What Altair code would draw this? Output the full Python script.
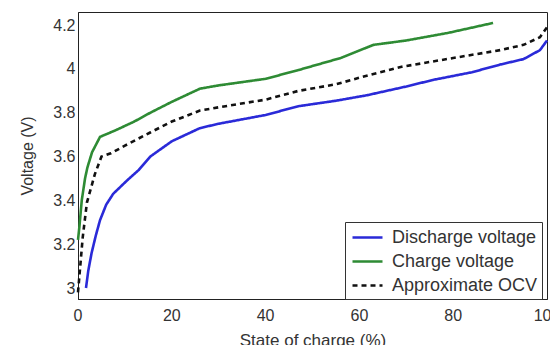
import altair as alt
import pandas as pd

# Discharge voltage (blue)
dis_x = [1.7, 2.2, 2.9, 3.8, 4.7, 6.0, 7.5, 10.4, 13.0, 15.4, 20, 26, 30, 40, 47, 55, 61.6, 70, 75.7, 84, 90, 95, 98.5, 100]
dis_y = [3.00, 3.08, 3.16, 3.24, 3.31, 3.38, 3.43, 3.49, 3.54, 3.60, 3.67, 3.73, 3.75, 3.79, 3.83, 3.855, 3.88, 3.92, 3.95, 3.985, 4.02, 4.045, 4.086, 4.13]

# Charge voltage (green)
chg_x = [0, 0.3, 0.8, 1.5, 2.0, 3.0, 4.7, 8, 12, 15.4, 20, 26, 30, 40, 47, 56, 63, 70, 79, 88.5]
chg_y = [3.22, 3.28, 3.40, 3.50, 3.55, 3.62, 3.69, 3.72, 3.76, 3.80, 3.85, 3.91, 3.925, 3.955, 3.995, 4.05, 4.11, 4.13, 4.165, 4.21]

# Approximate OCV (black dashed)
ocv_x = [0, 0.2, 1.0, 1.9, 3.6, 5.0, 7.0, 10, 15.4, 20, 26, 30, 40, 47, 55, 60, 69, 80, 90, 95, 98.5, 100]
ocv_y = [2.98, 3.03, 3.23, 3.39, 3.52, 3.60, 3.615, 3.65, 3.71, 3.76, 3.81, 3.825, 3.86, 3.90, 3.93, 3.96, 4.01, 4.05, 4.086, 4.11, 4.145, 4.19]

series_names = ["Discharge voltage", "Charge voltage", "Approximate OCV"]
series_colors = ["#2a2ad8", "#2e8b34", "#111111"]
x_ticks = [0, 20, 40, 60, 80, 100]
y_ticks = [3, 3.2, 3.4, 3.6, 3.8, 4, 4.2]

rows = []
for name, xs, ys in zip(series_names, [dis_x, chg_x, ocv_x], [dis_y, chg_y, ocv_y]):
    for i, (a, b) in enumerate(zip(xs, ys)):
        rows.append({"series": name, "soc": a, "v": b, "i": i})
df = pd.DataFrame(rows)
ticks_df = pd.DataFrame({"soc": x_ticks})

x_enc = alt.X("soc:Q", scale=alt.Scale(domain=[0, 100], nice=False),
              axis=alt.Axis(values=x_ticks, labels=False, title="State of charge (%)",
                            grid=False, ticks=False,
                            titleFontSize=17, titleY=46, titleBaseline="alphabetic",
                            titleFontWeight="normal"))

lines = alt.Chart(df).mark_line(strokeWidth=2.6).encode(
    x=x_enc,
    y=alt.Y("v:Q", scale=alt.Scale(domain=[2.95, 4.26], nice=False, zero=False),
            axis=alt.Axis(values=y_ticks, format="~g", title="Voltage (V)", grid=False,
                          ticks=False, labelPadding=3, labelFontSize=16,
                          labelOverlap=False, labelFlush=False,
                          titleFontSize=16, titleX=-46, titleBaseline="alphabetic",
                          titleFontWeight="normal")),
    color=alt.Color("series:N",
                    scale=alt.Scale(domain=series_names, range=series_colors),
                    legend=alt.Legend(title=None, orient="none", legendX=267, legendY=210,
                                      symbolType="M-1.5,0H1.5", symbolSize=400,
                                      symbolOffset=7, symbolStrokeWidth=2.6,
                                      labelFontSize=18, labelOffset=13, rowPadding=3,
                                      padding=4, strokeColor="#333",
                                      labelColor="#333")),
    strokeDash=alt.StrokeDash("series:N",
                              scale=alt.Scale(domain=series_names,
                                              range=[[1, 0], [1, 0], [5, 4]]),
                              legend=None),
    order="i:Q",
)

tick_labels = alt.Chart(ticks_df).mark_text(
    baseline="top", align="center", fontSize=16, color="#333", font="Liberation Sans"
).encode(
    x="soc:Q",
    y=alt.value(296),
    text=alt.Text("soc:Q", format="d"),
)

chart = alt.layer(lines, tick_labels).properties(
    width=469, height=287,
    autosize=alt.AutoSizeParams(type="none"),
    padding={"left": 70, "top": 4, "right": 3, "bottom": 46},
).configure_view(
    stroke="#222", strokeWidth=1
).configure_axis(
    labelColor="#333", titleColor="#333", domainColor="#222",
    labelFont="Liberation Sans", titleFont="Liberation Sans"
).configure_legend(
    labelFont="Liberation Sans"
)

chart.save("out.html", embed_options={"renderer": "svg", "actions": False})
